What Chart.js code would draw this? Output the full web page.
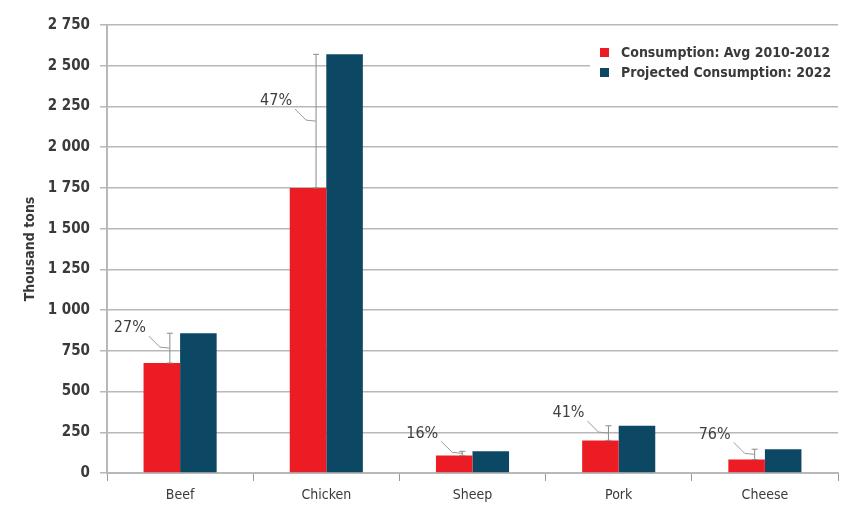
<!DOCTYPE html>
<html>
<head>
<meta charset="utf-8">
<script src="https://cdn.jsdelivr.net/npm/chart.js@4.4.1/dist/chart.umd.min.js"></script>
<style>
html,body{margin:0;padding:0;background:#fff;}
#wrap{width:841px;height:507px;position:relative;}
</style>
</head>
<body>
<div id="wrap"><canvas id="c" width="841" height="507"></canvas></div>
<script>
const categories = ['Beef', 'Chicken', 'Sheep', 'Pork', 'Cheese'];
const avg2010_2012 = [675, 1750, 108, 200, 83];
const projected2022 = [858, 2570, 133, 290, 146];
const changeLabels = ['27%', '47%', '16%', '41%', '76%'];
const seriesNames = ['Consumption: Avg 2010-2012', 'Projected Consumption: 2022'];
const yMax = 2750, yStep = 250;
const axisTitle = 'Thousand tons';

const FONT = '"DejaVu Sans Condensed", "Liberation Sans Narrow", "DejaVu Sans", sans-serif';
const RED = '#ec1c24', BLUE = '#0c4863', GRID = '#b8b8b8', TXT = '#3a3a3a';

function fmt(v){ return v >= 1000 ? Math.floor(v/1000) + ' ' + String(v%1000).padStart(3,'0') : String(v); }

const annotPlugin = {
  id: 'annot',
  afterDatasetsDraw(chart){
    const ctx = chart.ctx, y = chart.scales.y;
    const m0 = chart.getDatasetMeta(0);
    ctx.save();
    categories.forEach((c, i) => {
      const bar = m0.data[i];
      const ix = bar.x + bar.width * 0.22;
      const yTop = y.getPixelForValue(projected2022[i]);
      const yBot = y.getPixelForValue(avg2010_2012[i]);
      const ym = (yTop + yBot) / 2;
      ctx.strokeStyle = '#8a8a8a';
      ctx.lineWidth = 1;
      ctx.beginPath();
      ctx.moveTo(ix, yTop); ctx.lineTo(ix, yBot);
      ctx.moveTo(ix - 3, yTop); ctx.lineTo(ix + 3, yTop);
      ctx.moveTo(ix - 3, yBot); ctx.lineTo(ix + 3, yBot);
      ctx.stroke();
      ctx.strokeStyle = '#9a9a9a';
      ctx.beginPath();
      ctx.moveTo(ix - 21, ym - 12);
      ctx.lineTo(ix - 10, ym - 1);
      ctx.lineTo(ix, ym);
      ctx.stroke();
      ctx.fillStyle = '#3f3f3f';
      ctx.font = '16px ' + FONT;
      ctx.textAlign = 'center';
      ctx.textBaseline = 'middle';
      ctx.fillText(changeLabels[i], ix - 40, ym - 20);
    });
    ctx.restore();
  },
  afterDraw(chart){
    const ctx = chart.ctx;
    ctx.save();
    ctx.fillStyle = '#fff';
    ctx.fillRect(590, 40, 251, 46);
    const rows = [[RED, seriesNames[0], 53], [BLUE, seriesNames[1], 73]];
    ctx.font = 'bold 14px ' + FONT;
    ctx.textBaseline = 'middle';
    ctx.textAlign = 'left';
    rows.forEach(r => {
      ctx.fillStyle = r[0];
      ctx.fillRect(600, r[2] - 5, 9, 9);
      ctx.fillStyle = TXT;
      ctx.fillText(r[1], 621, r[2]);
    });
    ctx.restore();
  }
};

new Chart(document.getElementById('c'), {
  type: 'bar',
  data: {
    labels: categories,
    datasets: [
      { label: seriesNames[0], data: avg2010_2012, backgroundColor: RED, categoryPercentage: 0.5, barPercentage: 1.0 },
      { label: seriesNames[1], data: projected2022, backgroundColor: BLUE, categoryPercentage: 0.5, barPercentage: 1.0 }
    ]
  },
  options: {
    responsive: false,
    animation: false,
    events: [],
    layout: { padding: { left: 22, right: 3, top: 25, bottom: 0 } },
    plugins: { legend: { display: false }, tooltip: { enabled: false } },
    scales: {
      x: {
        afterFit(s){ s.height = 34; },
        grid: { offset: true, drawOnChartArea: false, drawTicks: true, tickLength: 8, color: '#999', lineWidth: 1 },
        border: { color: GRID, width: 2 },
        ticks: { color: TXT, font: { family: FONT, size: 14 }, padding: 6 }
      },
      y: {
        min: 0, max: yMax,
        afterFit(s){ s.width = 85; },
        grid: { color: GRID, lineWidth: 1.5, tickLength: 7 },
        border: { color: GRID, width: 2 },
        ticks: { stepSize: yStep, color: TXT, padding: 10, font: { family: FONT, size: 15, weight: 'bold' }, callback: v => fmt(v) },
        title: { display: true, text: axisTitle, color: TXT, padding: { top: 0, bottom: 0 }, font: { family: FONT, size: 14, weight: 'bold' } }
      }
    }
  },
  plugins: [annotPlugin]
});
</script>
</body>
</html>
